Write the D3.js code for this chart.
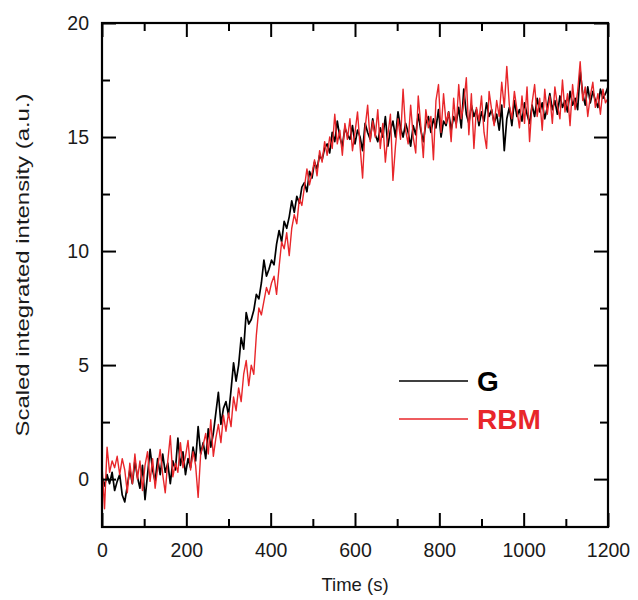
<!DOCTYPE html>
<html><head><meta charset="utf-8">
<script src="https://cdn.jsdelivr.net/npm/d3@7"></script>
<style>body{margin:0;background:#fff}svg{display:block;font-family:"Liberation Sans",Arial,sans-serif}</style>
</head><body><svg id="c" width="638" height="600"></svg>
<script>
const timeStep = 6; // seconds between samples
const seriesNames = ["G", "RBM"];
const seriesColors = ["#000000", "#e8262a"];
const xTicks = [0, 200, 400, 600, 800, 1000, 1200];
const yTicks = [0, 5, 10, 15, 20];
const G = [
0.1,-0.3,0.2,-0.2,0.3,-0.5,-0.1,0.2,-0.7,-1.0,
-0.3,0.4,-0.2,0.8,0.1,-0.4,0.6,-0.9,0.2,1.3,
0.4,-0.1,0.9,0.2,1.1,0.3,0.7,-0.2,0.8,0.4,
1.8,0.6,1.2,0.2,0.9,0.5,1.4,0.8,2.3,1.1,
1.6,0.9,2.2,1.4,2.0,2.9,3.8,2.4,3.1,3.4,
2.8,3.9,5.1,4.3,5.0,6.2,5.7,7.3,6.8,7.0,
7.4,8.1,7.9,8.6,9.6,8.9,9.2,9.6,9.4,10.3,
10.9,10.4,11.3,11.0,11.5,12.2,11.7,12.4,12.1,12.8,
13.0,12.6,13.5,13.2,13.9,13.6,14.2,14.0,14.5,14.7,
14.3,15.2,14.8,15.7,15.0,14.6,15.4,15.1,14.9,15.5,
14.7,15.3,15.0,14.4,15.6,15.2,14.9,15.8,15.1,14.8,
15.4,15.0,15.9,14.6,15.3,15.7,15.0,16.1,15.4,15.0,
15.6,15.2,14.6,15.5,15.1,16.0,15.3,14.8,15.6,15.9,
15.2,15.8,15.4,16.2,15.0,15.7,15.5,16.1,15.3,15.9,
15.6,16.3,15.4,17.1,16.0,15.6,16.4,15.9,16.2,15.5,
16.1,15.7,16.5,15.9,16.2,15.6,16.0,15.3,16.4,14.4,
15.8,16.3,15.5,16.6,15.9,16.2,15.7,16.5,16.0,15.6,
16.4,15.9,16.7,16.1,16.5,15.8,16.3,16.9,16.2,16.6,
16.0,16.8,16.3,16.6,16.1,17.0,16.4,16.7,16.2,17.9,
16.9,16.4,17.2,16.5,17.0,16.6,16.3,17.1,16.7,16.9,17.2
];
const RBM = [
0.6,-1.3,1.4,0.3,0.8,0.5,1.0,0.2,0.9,0.4,
-0.6,0.7,-0.2,1.1,0.0,0.8,-0.5,0.6,1.2,-0.1,
0.9,-0.4,0.5,1.3,0.2,-0.6,0.8,1.9,0.1,0.7,
0.3,1.6,0.5,1.0,1.7,0.4,1.2,0.6,-0.8,1.1,
1.5,2.0,1.1,2.6,1.0,1.8,2.4,1.6,2.8,2.1,
2.9,2.3,3.6,3.0,4.0,3.4,4.6,5.2,4.1,5.0,
4.6,6.3,7.5,7.2,7.8,8.4,8.1,8.6,8.9,8.1,
9.3,10.4,10.1,10.8,9.8,11.0,11.6,11.2,12.3,12.0,
12.8,13.6,12.9,13.4,14.0,13.3,14.4,13.9,14.8,14.2,
15.0,14.5,16.0,14.7,15.3,14.2,15.6,14.9,15.8,14.4,
15.2,16.1,14.6,13.2,15.4,16.4,14.8,15.7,15.0,16.2,
14.5,15.6,13.9,15.1,16.0,13.1,14.6,15.8,14.9,17.1,
15.3,14.7,16.4,15.0,14.3,16.8,15.5,14.1,16.2,15.4,
15.9,14.0,16.6,17.3,15.2,16.9,15.6,16.1,14.8,16.7,
15.4,17.3,15.8,16.5,17.6,15.1,16.9,14.5,16.3,15.7,
16.8,15.2,14.5,17.0,16.2,15.5,16.6,15.9,17.4,16.3,
18.1,16.4,15.8,17.0,16.2,15.4,16.8,15.6,17.2,14.8,
16.5,17.3,15.9,16.7,15.3,17.1,16.0,16.8,15.6,17.2,
16.4,15.8,17.5,16.1,16.9,15.5,17.3,16.2,17.0,18.3,
16.6,17.2,15.9,16.8,17.4,16.3,16.9,16.0,17.1,16.5,16.7
];

const svg = d3.select("#c");
const L = 102, R = 608, T = 23, B = 527;
const x = d3.scaleLinear().domain([0, 1200]).range([L, R]);
const y = d3.scaleLinear().domain([-2.1, 20]).range([B, T]);

const minorX = d3.range(100, 1200, 200);
const minorY = [2.5, 7.5, 12.5, 17.5];

// data lines
const line = d3.line().x((d, i) => x(i * timeStep)).y(d => y(d));
[G, RBM].forEach((s, k) => {
  svg.append("path").datum(s).attr("d", line)
    .attr("fill", "none").attr("stroke", seriesColors[k])
    .attr("stroke-width", k === 0 ? 1.7 : 1.4).attr("stroke-linejoin", "round");
});

// axes with inward ticks
function styleAxis(g) {
  g.selectAll(".domain").remove();
  g.selectAll("line").attr("stroke", "#000").attr("stroke-width", 2);
  g.selectAll("text").attr("fill", "#1a1a1a").style("font-size", "19.5px");
}
function addAxis(gen, tx, ty) {
  svg.append("g").attr("transform", `translate(${tx},${ty})`).call(gen).call(styleAxis);
}
addAxis(d3.axisBottom(x).tickValues(xTicks).tickSize(-14).tickPadding(16).tickFormat(d3.format("d")), 0, B);
addAxis(d3.axisBottom(x).tickValues(minorX).tickSize(-8).tickFormat(""), 0, B);
addAxis(d3.axisTop(x).tickValues(xTicks).tickSize(-14).tickFormat(""), 0, T);
addAxis(d3.axisTop(x).tickValues(minorX).tickSize(-8).tickFormat(""), 0, T);
addAxis(d3.axisLeft(y).tickValues(yTicks).tickSize(-14).tickPadding(13).tickFormat(d3.format("d")), L, 0);
addAxis(d3.axisLeft(y).tickValues(minorY).tickSize(-8).tickFormat(""), L, 0);
addAxis(d3.axisRight(y).tickValues(yTicks).tickSize(-14).tickFormat(""), R, 0);
addAxis(d3.axisRight(y).tickValues(minorY).tickSize(-8).tickFormat(""), R, 0);

// frame
svg.append("rect").attr("x", L).attr("y", T).attr("width", R - L).attr("height", B - T)
  .attr("fill", "none").attr("stroke", "#000").attr("stroke-width", 2.2);

// axis titles
svg.append("text").attr("x", 355).attr("y", 591).attr("text-anchor", "middle")
  .style("font-size", "18.5px").attr("fill", "#1a1a1a").text("Time (s)");
svg.append("text").attr("transform", "translate(29,265) rotate(-90)").attr("text-anchor", "middle")
  .style("font-size", "19px").attr("fill", "#1a1a1a")
  .attr("textLength", 343).attr("lengthAdjust", "spacingAndGlyphs")
  .text("Scaled integrated intensity (a.u.)");

// legend
const legY = [381, 419];
seriesNames.forEach((n, k) => {
  svg.append("line").attr("x1", 399).attr("x2", 468).attr("y1", legY[k]).attr("y2", legY[k])
    .attr("stroke", seriesColors[k]).attr("stroke-width", 1.4);
  svg.append("text").attr("x", 477).attr("y", legY[k] + 10).style("font-size", "28px")
    .style("font-weight", "bold").attr("fill", k === 0 ? "#000" : "#e8262a").text(n);
});
</script></body></html>
